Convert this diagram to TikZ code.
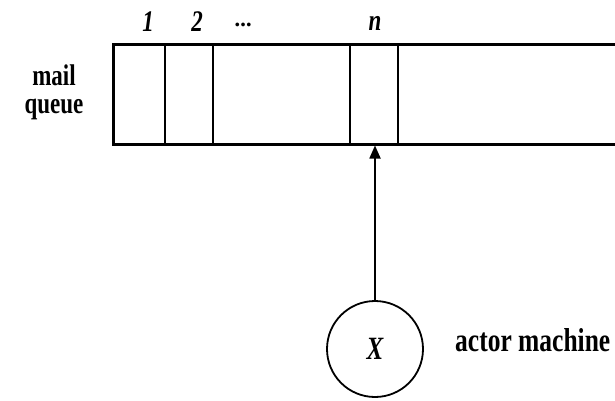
\documentclass[tikz,border=0pt]{standalone}
\usepackage{graphicx}
\usepackage{fontspec}
\setmainfont{Liberation Serif}
\usetikzlibrary{arrows.meta}
\newcommand\tallTxt[1]{\scalebox{1}[1.3]{#1}}
\begin{document}
\begin{tikzpicture}[x=1pt,y=-1pt,
  lbl/.style={font=\fontsize{23}{26}\selectfont\bfseries, inner sep=0pt},
  idx/.style={font=\fontsize{23}{24}\selectfont\bfseries\itshape, inner sep=0pt},
  frame/.style={line width=3pt},
  divider/.style={line width=2pt},
  machine/.style={circle, draw, line width=1.8pt, minimum size=96pt, inner sep=0pt,
    font=\fontsize{25}{26}\selectfont\bfseries\itshape},
  conn/.style={line width=1.8pt, -{Triangle[width=11pt,length=13pt]}}]
\useasboundingbox (0,0) rectangle (615,400);
% queue outline (open at the right)
\draw[frame] (620,44) -- (113,44) -- (113,144) -- (620,144);
\coordinate (s1) at (165,44);
\coordinate (s2) at (213,44);
\coordinate (s3) at (350,44);
\coordinate (s4) at (398,44);
\foreach \c in {s1,s2,s3,s4} \draw[divider] (\c) -- ++(0,100);
% labels
\node[idx] (l1) at (148,22) {\tallTxt{1}};
\node[idx] (l2) at (197,22) {\tallTxt{2}};
\node[idx] (ld) at (244,25) {...};
\node[idx] (ln) at (375,23) {\tallTxt{n}};
\node[lbl, align=center] (q) at (54,92) {\tallTxt{mail}\\[2pt]\tallTxt{queue}};
% actor machine
\node[machine] (x) at (375,349) {\tallTxt{X}};
\node[lbl, font=\fontsize{25.5}{28}\selectfont\bfseries, anchor=west] (am) at (455,340) {\tallTxt{actor machine}};
\coordinate (slot) at (375,145.5);
\draw[conn] (x) -- (slot);
\end{tikzpicture}
\end{document}
